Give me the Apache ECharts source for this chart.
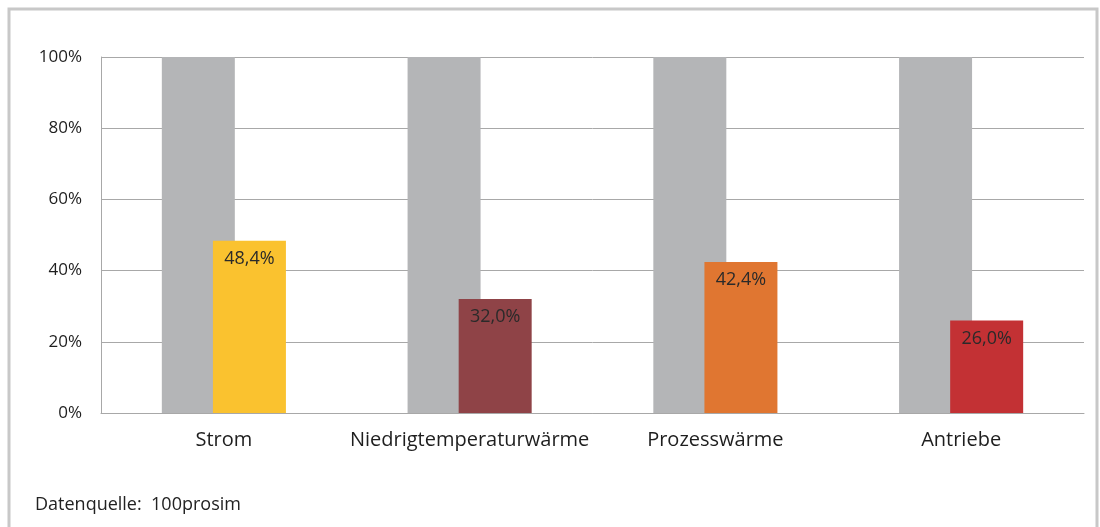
<!DOCTYPE html>
<html>
<head>
<meta charset="utf-8">
<script src="https://cdn.jsdelivr.net/npm/echarts@6/dist/echarts.min.js"></script>
<style>
  html, body { margin: 0; padding: 0; background: #fff; }
  #chart { width: 1100px; height: 527px; }
</style>
</head>
<body>
<div id="chart"></div>
<script>
// Kategorien und Werte
const categories = ['Strom', 'Niedrigtemperaturwärme', 'Prozesswärme', 'Antriebe'];
const totalValues = [100, 100, 100, 100];
const shareValues = [48.4, 32.0, 42.4, 26.0];
const shareColors = ['#fac22f', '#8f4347', '#e07631', '#c33134'];
const yTicks = [0, 20, 40, 60, 80, 100];

const font = '"Open Sans", "Noto Sans", sans-serif';

const chart = echarts.init(document.getElementById('chart'));

const option = {
  animation: false,
  backgroundColor: '#fff',
  grid: { left: 101, right: 16, top: 57, bottom: 114 },
  graphic: [
    {
      type: 'rect',
      shape: { x: 9, y: 9, width: 1088, height: 600 },
      style: { fill: 'none', stroke: '#c8c8c8', lineWidth: 3 },
      silent: true
    },
    {
      type: 'text',
      left: 35,
      top: 496,
      style: { text: 'Datenquelle:  100prosim', font: '18px ' + font, fill: '#222' }
    }
  ],
  xAxis: {
    type: 'category',
    data: categories,
    axisLine: { lineStyle: { color: '#a8a8a8', width: 1 } },
    axisTick: { show: false },
    axisLabel: { color: '#1e1e1e', fontSize: 20, fontFamily: font, margin: 17, interval: 0 }
  },
  yAxis: {
    type: 'value',
    min: 0,
    max: 100,
    interval: 20,
    axisLine: { show: true, lineStyle: { color: '#a8a8a8', width: 1 } },
    axisTick: { show: false },
    splitLine: { lineStyle: { color: '#a8a8a8', width: 1 } },
    axisLabel: {
      color: '#1e1e1e',
      fontSize: 17,
      fontFamily: font,
      margin: 19,
      formatter: v => (yTicks.includes(v) ? v + '%' : '')
    }
  },
  series: [
    {
      type: 'bar',
      data: totalValues,
      barWidth: 73,
      barGap: '-30%',
      itemStyle: { color: '#b4b5b7' },
      z: 2
    },
    {
      type: 'bar',
      data: shareValues.map((v, i) => ({ value: v, itemStyle: { color: shareColors[i] } })),
      barWidth: 73,
      z: 3,
      label: {
        show: true,
        position: 'insideTop',
        distance: 9,
        color: '#2a2a2a',
        fontSize: 18,
        fontFamily: font,
        formatter: p => p.value.toFixed(1).replace('.', ',') + '%'
      }
    }
  ]
};

chart.setOption(option);
</script>
</body>
</html>
